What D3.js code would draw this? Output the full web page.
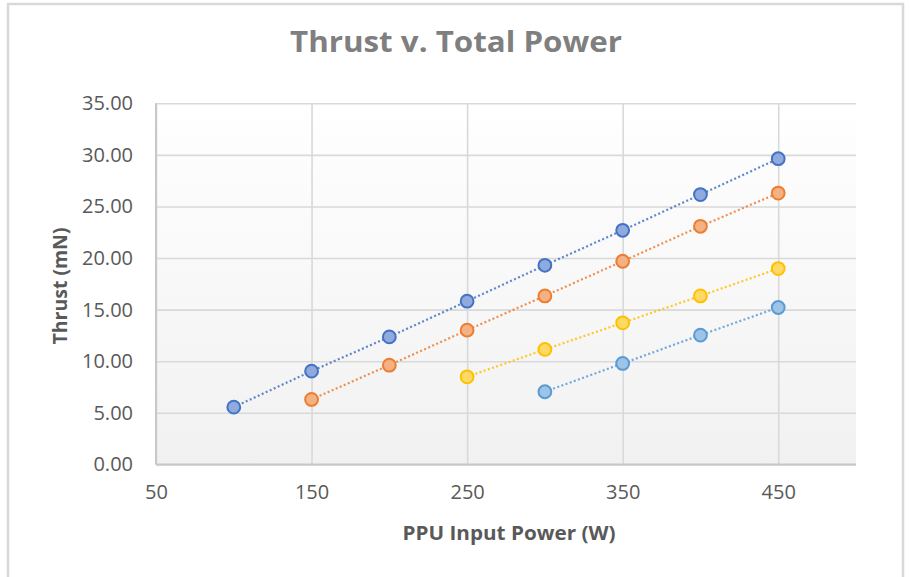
<!DOCTYPE html>
<html>
<head>
<meta charset="utf-8">
<script src="https://cdn.jsdelivr.net/npm/d3@7"></script>
<style>
  body { margin: 0; background: #fff; }
  svg { display: block; font-family: "Open Sans", sans-serif; }
</style>
</head>
<body>
<div id="chart"></div>
<script>
// PPU input power (W) and thrust (mN) for each operating curve
var powerA = [100, 150, 200, 250, 300, 350, 400, 450]
var thrustA = [5.55, 9.04, 12.36, 15.82, 19.30, 22.69, 26.15, 29.63]

var powerB = [150, 200, 250, 300, 350, 400, 450]
var thrustB = [6.30, 9.62, 13.01, 16.33, 19.69, 23.08, 26.30]

var powerC = [250, 300, 350, 400, 450]
var thrustC = [8.49, 11.14, 13.72, 16.33, 18.98]

var powerD = [300, 350, 400, 450]
var thrustD = [7.04, 9.79, 12.53, 15.21]

var xTicks = [50, 150, 250, 350, 450]
var yTicks = [0, 5, 10, 15, 20, 25, 30, 35]

var series = [
    {x: powerA, y: thrustA, stroke: "#4472c4", fill: "#8faadc"},
    {x: powerB, y: thrustB, stroke: "#ed7d31", fill: "#f4b183"},
    {x: powerC, y: thrustC, stroke: "#ffc000", fill: "#ffd966"},
    {x: powerD, y: thrustD, stroke: "#5b9bd5", fill: "#9dc3e6"}
]

var width = 910, height = 577
var margin = {top: 103.3, right: 54, bottom: 112.6, left: 156}
var chartWidth = width - margin.left - margin.right
var chartHeight = height - margin.top - margin.bottom

var svg = d3.select("#chart").append("svg")
    .attr("width", width).attr("height", height)

// outer chart border (no bottom edge visible)
svg.append("rect")
    .attr("x", 8).attr("y", 4)
    .attr("width", 895).attr("height", 600)
    .attr("fill", "#fff")
    .attr("stroke", "#d9d9d9").attr("stroke-width", 2.5)

var defs = svg.append("defs")
var grad = defs.append("linearGradient").attr("id", "plotbg")
    .attr("x1", 0).attr("y1", 0).attr("x2", 0).attr("y2", 1)
grad.append("stop").attr("offset", "0%").attr("stop-color", "#ffffff")
grad.append("stop").attr("offset", "100%").attr("stop-color", "#f1f1f1")

var xScale = d3.scaleLinear().domain([50, 500]).range([0, chartWidth])
var yScale = d3.scaleLinear().domain([0, 35]).range([chartHeight, 0])

var chartLayer = svg.append("g")
    .attr("transform", "translate(" + [margin.left, margin.top] + ")")

chartLayer.append("rect")
    .attr("width", chartWidth).attr("height", chartHeight)
    .attr("fill", "url(#plotbg)")

// y gridlines + labels
var yAxis = d3.axisLeft(yScale)
    .tickValues(yTicks)
    .tickSize(-chartWidth)
    .tickPadding(23)
    .tickFormat(d3.format(".2f"))

var gy = chartLayer.append("g").attr("class", "axis y").call(yAxis)
gy.select(".domain").remove()
gy.selectAll(".tick line").attr("stroke", "#d9d9d9").attr("stroke-width", 1.6)
gy.selectAll(".tick text")
    .attr("fill", "#595959").attr("font-size", 20)
    .attr("font-family", "Open Sans, sans-serif")

// x gridlines + labels
var xAxis = d3.axisBottom(xScale)
    .tickValues(xTicks)
    .tickSize(-chartHeight)
    .tickPadding(20)

var gx = chartLayer.append("g").attr("class", "axis x")
    .attr("transform", "translate(0," + chartHeight + ")")
    .call(xAxis)
gx.select(".domain").remove()
gx.selectAll(".tick line").attr("stroke", "#d9d9d9").attr("stroke-width", 1.6)
gx.selectAll(".tick text")
    .attr("fill", "#595959").attr("font-size", 20)
    .attr("font-family", "Open Sans, sans-serif")

// plot left and bottom edges
chartLayer.append("line")
    .attr("x1", 0).attr("x2", 0).attr("y1", 0).attr("y2", chartHeight)
    .attr("stroke", "#c8c8c8").attr("stroke-width", 2)
chartLayer.append("line")
    .attr("x1", 0).attr("x2", chartWidth).attr("y1", chartHeight).attr("y2", chartHeight)
    .attr("stroke", "#c8c8c8").attr("stroke-width", 2)

var line = d3.line()
    .x(function (d) { return xScale(d[0]) })
    .y(function (d) { return yScale(d[1]) })

series.forEach(function (s) {
    var pts = d3.zip(s.x, s.y)
    chartLayer.append("path")
        .datum(pts)
        .attr("d", line)
        .attr("fill", "none")
        .attr("stroke", s.stroke)
        .attr("stroke-opacity", 0.85)
        .attr("stroke-width", 2.2)
        .attr("stroke-dasharray", "2 2.4")

    chartLayer.selectAll(null).data(pts).enter().append("circle")
        .attr("cx", function (d) { return xScale(d[0]) })
        .attr("cy", function (d) { return yScale(d[1]) })
        .attr("r", 6.4)
        .attr("fill", s.fill)
        .attr("stroke", s.stroke)
        .attr("stroke-width", 2)
})

// titles
svg.append("text")
    .attr("x", 456).attr("y", 52)
    .attr("text-anchor", "middle")
    .attr("font-size", 28).attr("font-weight", "bold")
    .attr("fill", "#7f7f7f")
    .attr("textLength", 332).attr("lengthAdjust", "spacingAndGlyphs")
    .text("Thrust v. Total Power")

svg.append("text")
    .attr("x", 509).attr("y", 540)
    .attr("text-anchor", "middle")
    .attr("font-size", 19).attr("font-weight", "bold")
    .attr("fill", "#595959")
    .attr("textLength", 213).attr("lengthAdjust", "spacingAndGlyphs")
    .text("PPU Input Power (W)")

svg.append("text")
    .attr("transform", "translate(67,286) rotate(-90)")
    .attr("text-anchor", "middle")
    .attr("font-size", 19).attr("font-weight", "bold")
    .attr("fill", "#595959")
    .attr("textLength", 117).attr("lengthAdjust", "spacingAndGlyphs")
    .text("Thrust (mN)")
</script>
</body>
</html>
